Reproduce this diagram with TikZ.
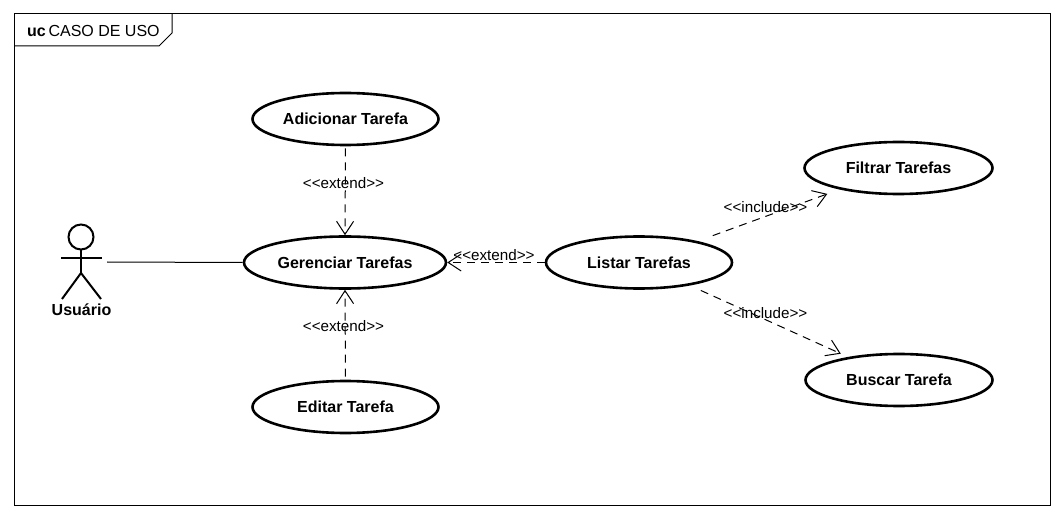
\documentclass[tikz,border=0pt]{standalone}
\usepackage{fontspec}
\setmainfont{Liberation Sans}
\usetikzlibrary{arrows.meta,shapes.geometric}

\begin{document}
\begin{tikzpicture}[x=1pt,y=-1pt]
  \tikzstyle{usecase}=[draw,ellipse,line width=2.6pt,inner sep=0pt,minimum height=52pt,font=\fontsize{16}{18}\selectfont\bfseries]
  \tikzstyle{dep}=[line width=1pt,dash pattern=on 8pt off 6pt,-{Straight Barb[length=13pt,width=17pt,line width=1pt]}]
  \tikzstyle{stereo}=[inner sep=0pt,font=\fontsize{15.2}{18}\selectfont]
  \useasboundingbox (0,0) rectangle (1064,518);
  % frame
  \draw[line width=1pt] (14,14) rectangle (1050,505);
  \draw[line width=1pt] (14,46) -- (159,46) -- (172,33) -- (172,14);
  \node[inner sep=0pt,anchor=west,font=\fontsize{16}{18}\selectfont] (title) at (27,31) {\textbf{uc}\,CASO DE USO};
  % use cases
  \node[usecase,minimum width=186pt] (adicionar) at (345.5,119) {Adicionar Tarefa};
  \node[usecase,minimum width=202pt] (gerenciar) at (345,262.5) {Gerenciar Tarefas};
  \node[usecase,minimum width=186pt] (editar) at (345.5,407) {Editar Tarefa};
  \node[usecase,minimum width=186pt] (listar) at (639,262.5) {Listar Tarefas};
  \node[usecase,minimum width=188pt] (filtrar) at (898.5,168) {Filtrar Tarefas};
  \node[usecase,minimum width=187pt] (buscar) at (899,380) {Buscar Tarefa};
  % actor
  \node[draw,circle,line width=2pt,minimum size=25pt,inner sep=0pt] (head) at (81,237) {};
  \coordinate (hip) at (81,273);
  \coordinate (hand) at (107,262);
  \draw[line width=2pt] (head.south) -- (hip);
  \draw[line width=2pt] (61,258) -- (102,258);
  \draw[line width=2pt] (62,299) -- (hip) -- (101,299);
  \node[inner sep=0pt,font=\fontsize{16}{18}\selectfont\bfseries] (usuario) at (81.5,310) {Usuário};
  % connectors
  \draw[line width=1pt] (hand) -- (gerenciar.west);
  \draw[dep,shorten <=2pt] (adicionar.south) -- (gerenciar.north);
  \draw[dep,shorten <=3pt] (editar.north) -- (gerenciar.south);
  \draw[dep] (listar.west) -- (gerenciar.east);
  \draw[dep,shorten <=16pt,shorten >=13pt] (listar) -- (filtrar);
  \draw[dep,shorten <=12pt,shorten >=8pt] (listar) -- (buscar);
  % labels
  \node[stereo] (ext1) at (343.5,183) {<{}<extend>{}>};
  \node[stereo] (ext2) at (343.5,326) {<{}<extend>{}>};
  \node[stereo] (ext3) at (494,255) {<{}<extend>{}>};
  \node[stereo] (inc1) at (765.5,207) {<{}<include>{}>};
  \node[stereo] (inc2) at (765.5,313) {<{}<include>{}>};
\end{tikzpicture}
\end{document}
